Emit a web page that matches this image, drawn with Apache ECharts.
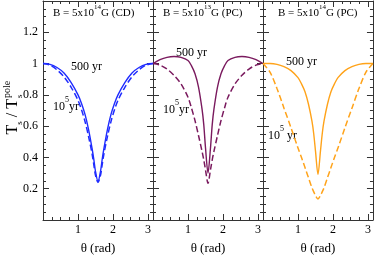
<!DOCTYPE html>
<html><head><meta charset="utf-8">
<script src="https://cdn.jsdelivr.net/npm/echarts@6/dist/echarts.min.js"></script>
<style>html,body{margin:0;padding:0;background:#fff}#c{width:374px;height:260px}</style>
</head><body><div id="c"></div>
<script>
// polar angle theta (rad)
var theta = [0, 0.2, 0.4, 0.6, 0.8, 1.0, 1.1, 1.2, 1.3, 1.4, 1.45, 1.5, 1.5708, 1.6416, 1.6916, 1.7416, 1.8416, 1.9416, 2.0416, 2.1416, 2.3416, 2.5416, 2.7416, 2.9416, 3.1416];
// Panel 1: B = 5x10^14 G (CD)
var p1_500 = [1.0, 0.995, 0.975, 0.94, 0.88, 0.80, 0.745, 0.675, 0.58, 0.46, 0.39, 0.31, 0.245, 0.31, 0.39, 0.46, 0.58, 0.675, 0.745, 0.80, 0.88, 0.94, 0.975, 0.995, 1.0];
var p1_1e5 = [1.0, 0.99, 0.96, 0.915, 0.85, 0.765, 0.705, 0.63, 0.535, 0.425, 0.355, 0.285, 0.24, 0.285, 0.355, 0.425, 0.535, 0.63, 0.705, 0.765, 0.85, 0.915, 0.96, 0.99, 1.0];
// Panel 2: B = 5x10^13 G (PC)
var p2_500 = [1.0, 1.025, 1.04, 1.045, 1.04, 1.02, 0.985, 0.935, 0.85, 0.71, 0.61, 0.46, 0.30, 0.46, 0.61, 0.71, 0.85, 0.935, 0.985, 1.02, 1.04, 1.045, 1.04, 1.025, 1.0];
var p2_1e5 = [1.0, 0.99, 0.965, 0.925, 0.87, 0.785, 0.715, 0.635, 0.54, 0.44, 0.385, 0.32, 0.235, 0.32, 0.385, 0.44, 0.54, 0.635, 0.715, 0.785, 0.87, 0.925, 0.965, 0.99, 1.0];
// Panel 3: B = 5x10^14 G (PC)
var p3_500 = [1.0, 1.0, 0.995, 0.98, 0.955, 0.91, 0.87, 0.82, 0.74, 0.63, 0.55, 0.44, 0.29, 0.44, 0.55, 0.63, 0.74, 0.82, 0.87, 0.91, 0.955, 0.98, 0.995, 1.0, 1.0];
var p3_1e5 = [1.0, 0.945, 0.84, 0.715, 0.59, 0.46, 0.40, 0.335, 0.27, 0.205, 0.18, 0.155, 0.135, 0.155, 0.18, 0.205, 0.27, 0.335, 0.40, 0.46, 0.59, 0.715, 0.84, 0.945, 1.0];

var panelTitles = ['{n|B = 5x10}{s|14}{n|G (CD)}', '{n|B = 5x10}{s|13}{n|G (PC)}', '{n|B = 5x10}{s|14}{n|G (PC)}'];
var panelColors = ['#1f2cff', '#7a1a5e', '#ffa31a'];
var xTitle = 'θ (rad)';

var FONT = 'Liberation Serif';
var AX = '#333';
var grids = [
  {left: 43, top: 1, width: 110, height: 231},
  {left: 153, top: 1, width: 110, height: 231},
  {left: 263, top: 1, width: 110, height: 231}
];
var xAxes = [], yAxes = [], series = [];
var seriesData = [[p1_500, p1_1e5], [p2_500, p2_1e5], [p3_500, p3_1e5]];
function pairs(v){ return theta.map(function(t,i){ return [t, v[i]]; }); }
for (var g = 0; g < 3; g++) {
  ['bottom','top'].forEach(function(pos){
    xAxes.push({
      gridIndex: g, type: 'value', min: 0, max: 3.1416, interval: 1, position: pos,
      axisLine: {show: true, onZero: false, lineStyle: {color: AX, width: 1}},
      axisTick: {show: true, inside: true, length: 6, lineStyle: {color: AX}},
      minorTick: {show: true, splitNumber: 4, length: 3, lineStyle: {color: AX}},
      splitLine: {show: false},
      axisLabel: {show: pos === 'bottom', showMaxLabel: false, showMinLabel: false, margin: 4, color: '#000', fontFamily: FONT, fontSize: 12,
        formatter: function(v){ return (v > 0.5 && Math.abs(v - Math.round(v)) < 1e-6) ? String(Math.round(v)) : ''; }},
      name: pos === 'bottom' ? xTitle : '', nameLocation: 'middle', nameGap: 22,
      nameTextStyle: {color: '#000', fontFamily: FONT, fontSize: 13}
    });
  });
  (function(gi){
  ['left','right'].forEach(function(pos){
    yAxes.push({
      gridIndex: gi, type: 'value', min: 0, max: 1.4, interval: 0.2, position: pos,
      axisLine: {show: true, onZero: false, lineStyle: {color: AX, width: 1}},
      axisTick: {show: true, inside: true, length: 6, lineStyle: {color: AX}},
      minorTick: {show: true, splitNumber: 4, length: 3, lineStyle: {color: AX}},
      splitLine: {show: false},
      axisLabel: {show: (gi === 0 && pos === 'left'), margin: 5, color: '#000', fontFamily: FONT, fontSize: 12,
        formatter: function(v){ return (v > 0.05 && v < 1.35) ? String(+v.toFixed(1)) : ''; }}
    });
  });
  })(g);
  series.push({type: 'line', xAxisIndex: 2*g, yAxisIndex: 2*g, data: pairs(seriesData[g][0]), showSymbol: false, smooth: 0.3,
    lineStyle: {color: panelColors[g], width: 1.4}});
  series.push({type: 'line', xAxisIndex: 2*g, yAxisIndex: 2*g, data: pairs(seriesData[g][1]), showSymbol: false, smooth: 0.3,
    lineStyle: {color: panelColors[g], width: 1.5, type: [6, 3]}});
}

// x, y = top of the line box
function txt(x, y, text, size, supSize, lh) {
  return {type: 'text', x: x, y: y, silent: true, style: {
    text: text, fill: '#000', font: size + 'px ' + FONT, verticalAlign: 'top',
    rich: {
      n: {fontSize: size, fontFamily: FONT, verticalAlign: 'bottom', lineHeight: lh},
      s: {fontSize: supSize, fontFamily: FONT, verticalAlign: 'top', lineHeight: supSize + 1}
    }
  }};
}
function rtxt(x, y, text, size, align) {
  return {type: 'text', x: x, y: y, rotation: Math.PI / 2, silent: true, style: {
    text: text, fill: '#000', font: size + 'px ' + FONT, align: align, verticalAlign: 'middle'
  }};
}
var graphics = [
  txt(53, 4, panelTitles[0], 11, 7, 15),
  txt(163, 4, panelTitles[1], 11, 7, 15),
  txt(278, 4, panelTitles[2], 11, 7, 15),
  txt(71, 59, '{n|500 yr}', 12, 8, 14),
  txt(176, 45, '{n|500 yr}', 12, 8, 14),
  txt(286, 54, '{n|500 yr}', 12, 8, 14),
  txt(53, 96, '{n|10}{s|5}{n|yr}', 12, 8, 17),
  txt(163, 99, '{n|10}{s|5}{n|yr}', 12, 8, 17),
  txt(268, 125, '{n|10}{s|5}{n| yr}', 12, 8, 17),
  // y-axis title: T_s / T_s^pole (rotated)
  {type: 'text', x: 13, y: 99, rotation: Math.PI / 2, silent: true, style: {
    text: '{n|T}{b|s}{n| / T}', align: 'right', verticalAlign: 'middle', fill: '#000',
    rich: {
      n: {fontSize: 16, fontFamily: FONT, verticalAlign: 'middle', lineHeight: 22},
      b: {fontSize: 9, fontFamily: FONT, verticalAlign: 'bottom', lineHeight: 22}
    }
  }},
  rtxt(20, 98, 's', 9, 'left'),
  rtxt(7, 98, 'pole', 10, 'left')
];

var chart = echarts.init(document.getElementById('c'), null, {renderer: 'canvas'});
chart.setOption({
  animation: false,
  backgroundColor: '#fff',
  grid: grids,
  xAxis: xAxes,
  yAxis: yAxes,
  series: series,
  graphic: graphics
});
</script>
</body></html>
